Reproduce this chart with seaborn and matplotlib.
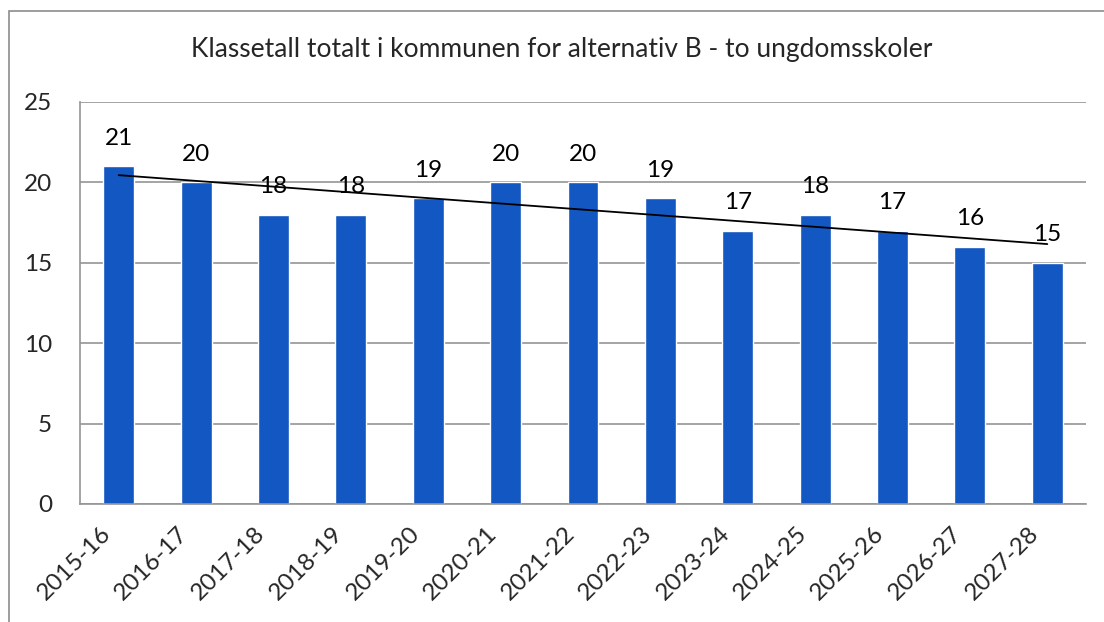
import numpy as np
import pandas as pd
import matplotlib
matplotlib.use("Agg")
import matplotlib.pyplot as plt
import matplotlib.transforms as mtrans
import seaborn as sns

categories = ["2015-16", "2016-17", "2017-18", "2018-19", "2019-20", "2020-21", "2021-22",
              "2022-23", "2023-24", "2024-25", "2025-26", "2026-27", "2027-28"]
values = [21, 20, 18, 18, 19, 20, 20, 19, 17, 18, 17, 16, 15]
title = "Klassetall totalt i kommunen for alternativ B - to ungdomsskoler"

sns.set_theme(style="white")
plt.rcParams['font.family'] = ['Lato', 'DejaVu Sans']

df = pd.DataFrame({"kat": categories, "verdi": values})

fig = plt.figure(figsize=(11.04, 6.22), dpi=100)
ax = fig.add_axes([80/1104, 1-504/622, (1086-80)/1104, (504-102)/622])

sns.barplot(data=df, x="kat", y="verdi", color="#1257C2", saturation=1, width=0.4, ax=ax)

# trendline (linear fit)
xs = np.arange(len(values))
k, m = np.polyfit(xs, values, 1)
ax.plot(xs, k*xs + m, color="black", lw=1.3, zorder=5)

for i, v in enumerate(values):
    ax.text(i, v + 1.1, str(v), ha="center", va="bottom", fontsize=17.5, color="black", zorder=6)

ax.set_ylim(0, 25)
ax.set_xlim(-0.5, len(values) - 0.5)
ax.set_yticks(range(0, 26, 5))
ax.yaxis.grid(True, color="#959595", lw=1.2)
ax.set_axisbelow(True)
ax.set_xlabel("")
ax.set_ylabel("")
for s in ["top", "right"]:
    ax.spines[s].set_visible(False)
for s in ["left", "bottom"]:
    ax.spines[s].set_color("#959595")
    ax.spines[s].set_linewidth(1.2)

ax.set_xticks(np.arange(len(values)))
ax.set_xticklabels(categories, rotation=45, ha="right", rotation_mode="anchor", fontsize=17.5)
ax.tick_params(axis="x", length=0, pad=10)
ax.tick_params(axis="y", labelsize=17.5, length=8, color="#959595", width=1.2, pad=12)
offset = mtrans.ScaledTranslation(-19/100, -5/100, fig.dpi_scale_trans)
for lab in ax.get_xticklabels():
    lab.set_transform(lab.get_transform() + offset)
# category boundary ticks
ax.set_xticks(np.arange(-0.5, len(values), 1), minor=True)
ax.tick_params(axis="x", which="minor", length=8, color="#959595", width=1.2, direction="out")

fig.text(562/1104, 1-50/622, title, ha="center", va="center", fontsize=19)

# outer frame
fig.patches.append(plt.Rectangle((9/1104, -0.1), 1.2, 1-11/622 + 0.1, transform=fig.transFigure,
                                 fill=False, edgecolor="#8c8c8c", lw=1.2))

fig.savefig("out.png", dpi=100)
